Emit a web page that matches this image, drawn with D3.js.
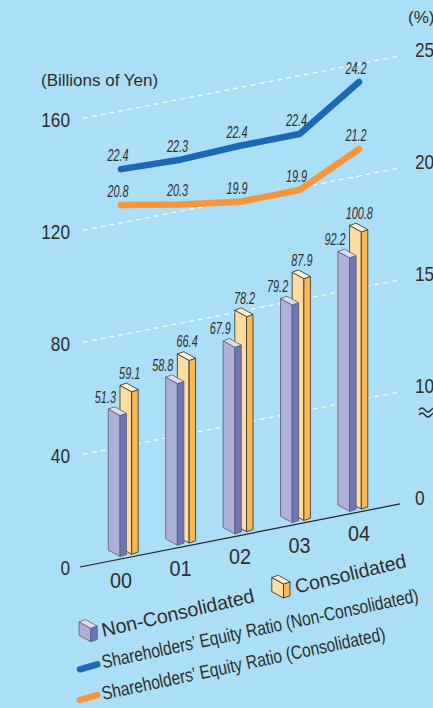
<!DOCTYPE html>
<html>
<head>
<meta charset="utf-8">
<script src="https://cdn.jsdelivr.net/npm/d3@7"></script>
<style>
  html, body { margin: 0; padding: 0; background: #aadff7; }
  svg { display: block; }
</style>
</head>
<body>
<svg id="chart" width="433" height="708"></svg>
<script>
// Fiscal years and values (billions of yen / percent)
const years = ["00", "01", "02", "03", "04"];
const nonConsolidated = [51.3, 58.8, 67.9, 79.2, 92.2];
const consolidated = [59.1, 66.4, 78.2, 87.9, 100.8];
const ratioNonConsolidated = [22.4, 22.3, 22.4, 22.4, 24.2];
const ratioConsolidated = [20.8, 20.3, 19.9, 19.9, 21.2];
const leftTicks = [0, 40, 80, 120, 160];
const rightTicks = [0, 10, 15, 20, 25];

const SANS = "'Liberation Sans', Arial, Helvetica, sans-serif";
const TEXT = "#2e2e2e";
const NARROW_X = 0.82; // horizontal squeeze for condensed lettering
const tf = (x, y, rot = 0, sx = NARROW_X) =>
  `translate(${x},${y})` + (rot ? ` rotate(${rot})` : "") + ` scale(${sx},1)`;

const svg = d3.select("#chart");
svg.append("rect").attr("width", 433).attr("height", 708).attr("fill", "#aadff7");

// Oblique plane: value axis at x0, floor rising to the right
const x0 = 80, x1 = 400, slope = 0.197;
const y = d3.scaleLinear().domain([0, 160]).range([567, 119]);
const sy = (v, x) => y(v) - slope * (x - x0);
// percent axis with a break between 0 and 10
const pct = d3.scaleLinear().domain([0, 10, 25]).range([0, 40, 160]);
// bar heights
const h = d3.scaleLinear().domain([0, 160]).range([0, 440]);
// bar positions (front corner of the near bar) and line / label positions
const xb = d3.scalePoint().domain(years).range([120, 349.6]);
const xl = d3.scalePoint().domain(years).range([121, 359]);

// gridlines
const grid = svg.append("g");
leftTicks.filter(d => d > 0).forEach(v => {
  grid.append("line")
    .attr("x1", 83).attr("y1", sy(v, 83))
    .attr("x2", x1).attr("y2", sy(v, x1))
    .attr("stroke", "#ffffff").attr("stroke-width", 1.2)
    .attr("stroke-dasharray", "5,4").attr("opacity", 0.95);
});
// floor line
svg.append("line")
  .attr("x1", x0).attr("y1", sy(0, x0))
  .attr("x2", x1).attr("y2", sy(0, x1))
  .attr("stroke", "#222").attr("stroke-width", 1.2);

// left axis labels
svg.append("g").selectAll("text").data(leftTicks).join("text")
  .attr("transform", d => tf(70, y(d) + 8))
  .attr("text-anchor", "end")
  .attr("font-family", SANS).attr("font-size", 21).attr("fill", TEXT)
  .text(d => d);

svg.append("text").attr("x", 41).attr("y", 86)
  .attr("font-family", SANS).attr("font-size", 17).attr("fill", TEXT)
  .text("(Billions of Yen)");

// right axis labels
svg.append("g").selectAll("text").data(rightTicks).join("text")
  .attr("transform", d => tf(415, sy(pct(d), x1) + 1))
  .attr("font-family", SANS).attr("font-size", 21).attr("fill", TEXT)
  .text(d => d);
svg.append("text").attr("x", 408).attr("y", 23)
  .attr("font-family", SANS).attr("font-size", 17).attr("fill", TEXT)
  .text("(%)");
// axis break mark
const brk = svg.append("g").attr("fill", "none").attr("stroke", TEXT).attr("stroke-width", 1.3);
[0, 5].forEach(dy => {
  brk.append("path")
    .attr("d", `M419,${410 + dy} q3,-4 6,0 q3,4 6,0 q2,-2 4,-3`);
});

// 3D box: near vertical edge at nx, from bottom by to top ty
const L = [-11.7, -6.5], R = [6.5, -2.2];
const pts = a => a.map(p => p.join(",")).join(" ");
function box(g, nx, by, ty, c) {
  const nt = [nx, ty], nb = [nx, by];
  const add = (p, v) => [p[0] + v[0], p[1] + v[1]];
  g.append("polygon").attr("points", pts([nt, add(nt, L), add(nb, L), nb]))
    .attr("fill", c.left).attr("stroke", c.stroke).attr("stroke-width", 0.8).attr("stroke-linejoin", "round");
  g.append("polygon").attr("points", pts([nt, add(nt, R), add(nb, R), nb]))
    .attr("fill", c.right).attr("stroke", c.stroke).attr("stroke-width", 0.8).attr("stroke-linejoin", "round");
  g.append("polygon").attr("points", pts([nt, add(nt, L), add(add(nt, L), R), add(nt, R)]))
    .attr("fill", c.top).attr("stroke", c.stroke).attr("stroke-width", 0.8).attr("stroke-linejoin", "round");
}
const purple = { left: "#afb0d9", right: "#6d76b7", top: "#dddcf0", stroke: "#5b5b6e" };
const yellow = { left: "#fedda1", right: "#fbb955", top: "#fff2d4", stroke: "#2a2a2a" };

const VAL_SIZE = 16, VAL_X = 0.68; // value labels: tall condensed italic
const bars = svg.append("g");
const barLabels = svg.append("g")
  .attr("font-family", SANS).attr("font-size", VAL_SIZE).attr("font-style", "italic").attr("fill", TEXT);
years.forEach((yr, i) => {
  const px = xb(yr), cx = px - L[0];
  const pBase = sy(0, px) - 2.5, cBase = sy(0, cx) - 2.5;
  const pTop = pBase - h(nonConsolidated[i]);
  const cTop = cBase - h(consolidated[i]);
  box(bars, cx, cBase, cTop, yellow);
  box(bars, px, pBase, pTop, purple);
  barLabels.append("text").attr("transform", tf(px - 4, pTop - 13, 0, VAL_X))
    .attr("text-anchor", "end").text(nonConsolidated[i].toFixed(1));
  barLabels.append("text").attr("transform", tf(cx - 2, cTop - 13, 0, VAL_X))
    .attr("text-anchor", "middle").text(consolidated[i].toFixed(1));
});

// category labels
svg.append("g").selectAll("text").data(years).join("text")
  .attr("transform", d => tf(xl(d), sy(0, xl(d)) + 29, 0, 0.9))
  .attr("text-anchor", "middle")
  .attr("font-family", SANS).attr("font-size", 22).attr("fill", TEXT)
  .text(d => d);

// equity ratio lines
const line = d3.line()
  .x((d, i) => xl(years[i]))
  .y((d, i) => sy(pct(d), xl(years[i])));
const series = [
  { values: ratioNonConsolidated, color: "#1a68b6" },
  { values: ratioConsolidated, color: "#f7953a" }
];
series.forEach(s => {
  svg.append("path").attr("d", line(s.values))
    .attr("fill", "none").attr("stroke", s.color).attr("stroke-width", 6.5)
    .attr("stroke-linecap", "round").attr("stroke-linejoin", "round");
  svg.append("g").selectAll("text").data(s.values).join("text")
    .attr("transform", (d, i) => tf(xl(years[i]) - 3, sy(pct(d), xl(years[i])) - 8, 0, VAL_X))
    .attr("text-anchor", "middle")
    .attr("font-family", SANS).attr("font-size", VAL_SIZE).attr("font-style", "italic").attr("fill", TEXT)
    .text(d => d.toFixed(1));
});

// legend
const legend = svg.append("g");
const icon = (nx, ty, hgt, c) => box(legend, nx, ty + hgt, ty, c);
icon(90.7, 628.3, 13.4, purple);
icon(283.5, 584, 14, yellow);
legend.append("text").attr("transform", "translate(103.3,637) rotate(-13)")
  .attr("font-family", SANS).attr("font-size", 19.5).attr("fill", TEXT)
  .text("Non-Consolidated");
legend.append("text").attr("transform", "translate(296.7,593.5) rotate(-13.5)")
  .attr("font-family", SANS).attr("font-size", 19.5).attr("fill", TEXT)
  .text("Consolidated");
legend.append("line").attr("x1", 80).attr("y1", 669.3).attr("x2", 97.3).attr("y2", 664.3)
  .attr("stroke", series[0].color).attr("stroke-width", 6.5).attr("stroke-linecap", "round");
legend.append("line").attr("x1", 80).attr("y1", 700).attr("x2", 97.3).attr("y2", 695)
  .attr("stroke", series[1].color).attr("stroke-width", 6.5).attr("stroke-linecap", "round");
legend.append("text").attr("transform", tf(103.3, 668.5, -12))
  .attr("font-family", SANS).attr("font-size", 19).attr("fill", TEXT)
  .text("Shareholders\u2019 Equity Ratio (Non-Consolidated)");
legend.append("text").attr("transform", tf(103.3, 700, -12))
  .attr("font-family", SANS).attr("font-size", 19).attr("fill", TEXT)
  .text("Shareholders\u2019 Equity Ratio (Consolidated)");
</script>
</body>
</html>
